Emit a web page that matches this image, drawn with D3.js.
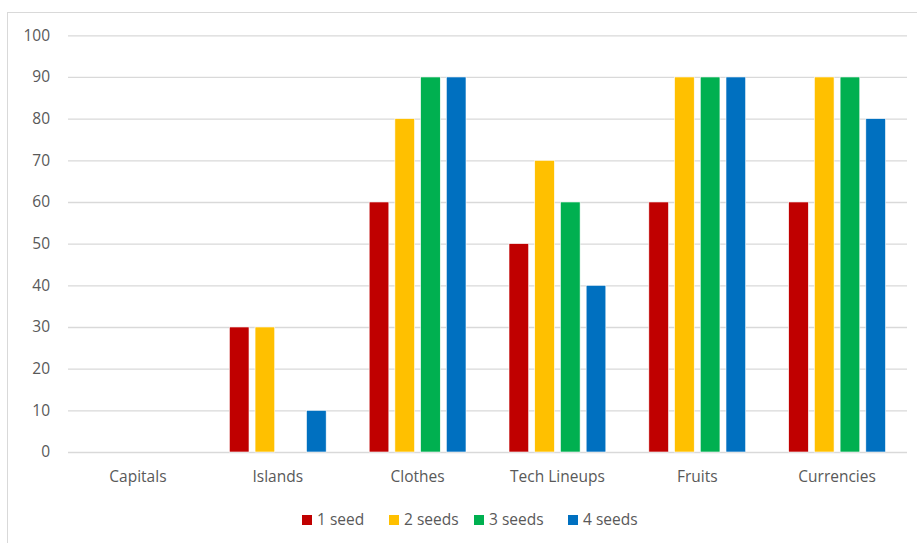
<!DOCTYPE html>
<html>
<head>
<meta charset="utf-8">
<script src="https://cdn.jsdelivr.net/npm/d3@7"></script>
<style>
  body { margin: 0; background: #fff; }
  svg text { font-family: "Open Sans", "Noto Sans", sans-serif; fill: #595959; }
</style>
</head>
<body>
<div id="chart"></div>
<script>
// chart data
const categories = ['Capitals', 'Islands', 'Clothes', 'Tech Lineups', 'Fruits', 'Currencies'];
const seriesNames = ['1 seed', '2 seeds', '3 seeds', '4 seeds'];
const seriesColors = ['#C00000', '#FFC000', '#00B050', '#0070C0'];
const seed1 = [0, 30, 60, 50, 60, 60];
const seed2 = [0, 30, 80, 70, 90, 90];
const seed3 = [0, 0, 90, 60, 90, 90];
const seed4 = [0, 10, 90, 40, 90, 80];
const yTicks = [0, 10, 20, 30, 40, 50, 60, 70, 80, 90, 100];

const WIDTH = 917;
const HEIGHT = 543;
const PLOT_LEFT = 68;
const PLOT_RIGHT = 907;
const PLOT_TOP = 35.3;
const PLOT_BOTTOM = 452;
const FONT_SIZE = '15.5px';

const seriesValues = [seed1, seed2, seed3, seed4];

const svg = d3.select('#chart')
  .append('svg')
  .attr('width', WIDTH)
  .attr('height', HEIGHT);

// outer chart frame (only top and left edges show in the picture)
svg.append('rect')
  .attr('x', 7.5)
  .attr('y', 12.5)
  .attr('width', 930)
  .attr('height', 550)
  .attr('fill', 'none')
  .attr('stroke', '#d9d9d9');

const x0 = d3.scaleBand()
  .domain(categories)
  .range([PLOT_LEFT, PLOT_RIGHT]);

const GROUP_PAD = 21.5;
const x1 = d3.scaleBand()
  .domain(seriesNames)
  .range([GROUP_PAD, x0.bandwidth() - GROUP_PAD])
  .paddingInner(0.235);

const y = d3.scaleLinear()
  .domain([0, 100])
  .range([PLOT_BOTTOM, PLOT_TOP]);

const color = d3.scaleOrdinal()
  .domain(seriesNames)
  .range(seriesColors);

// gridlines + y labels
const yAxis = svg.append('g')
  .attr('transform', `translate(${PLOT_LEFT},0)`)
  .call(d3.axisLeft(y)
    .tickValues(yTicks)
    .tickSize(-(PLOT_RIGHT - PLOT_LEFT))
    .tickPadding(18));
yAxis.select('.domain').remove();
yAxis.selectAll('.tick line')
  .attr('stroke', '#d9d9d9')
  .attr('stroke-width', 1.3);
yAxis.selectAll('.tick text')
  .attr('font-size', FONT_SIZE)
  .attr('fill', '#595959');

// bars
const groups = svg.append('g')
  .selectAll('g')
  .data(categories)
  .join('g')
  .attr('transform', d => `translate(${x0(d)},0)`);

groups.selectAll('rect')
  .data((c, ci) => seriesNames.map((s, si) => ({ s: s, v: seriesValues[si][ci] })))
  .join('rect')
  .attr('x', d => x1(d.s))
  .attr('y', d => y(d.v))
  .attr('width', x1.bandwidth())
  .attr('height', d => y(0) - y(d.v))
  .attr('fill', d => color(d.s))
  .attr('stroke', '#fff')
  .attr('stroke-width', 0.6);

// x labels
const xAxis = svg.append('g')
  .attr('transform', `translate(0,${PLOT_BOTTOM})`)
  .call(d3.axisBottom(x0).tickSize(0).tickPadding(19));
xAxis.select('.domain').remove();
xAxis.selectAll('.tick text')
  .attr('font-size', FONT_SIZE)
  .attr('fill', '#595959');

// legend
const legendX = [302, 389, 474, 568];
const legend = svg.append('g')
  .selectAll('g')
  .data(seriesNames)
  .join('g')
  .attr('transform', (d, i) => `translate(${legendX[i]},515)`);

legend.append('rect')
  .attr('width', 10)
  .attr('height', 10)
  .attr('fill', d => color(d));

legend.append('text')
  .attr('x', 15)
  .attr('y', 5)
  .attr('dy', '0.35em')
  .attr('font-size', FONT_SIZE)
  .text(d => d);
</script>
</body>
</html>
